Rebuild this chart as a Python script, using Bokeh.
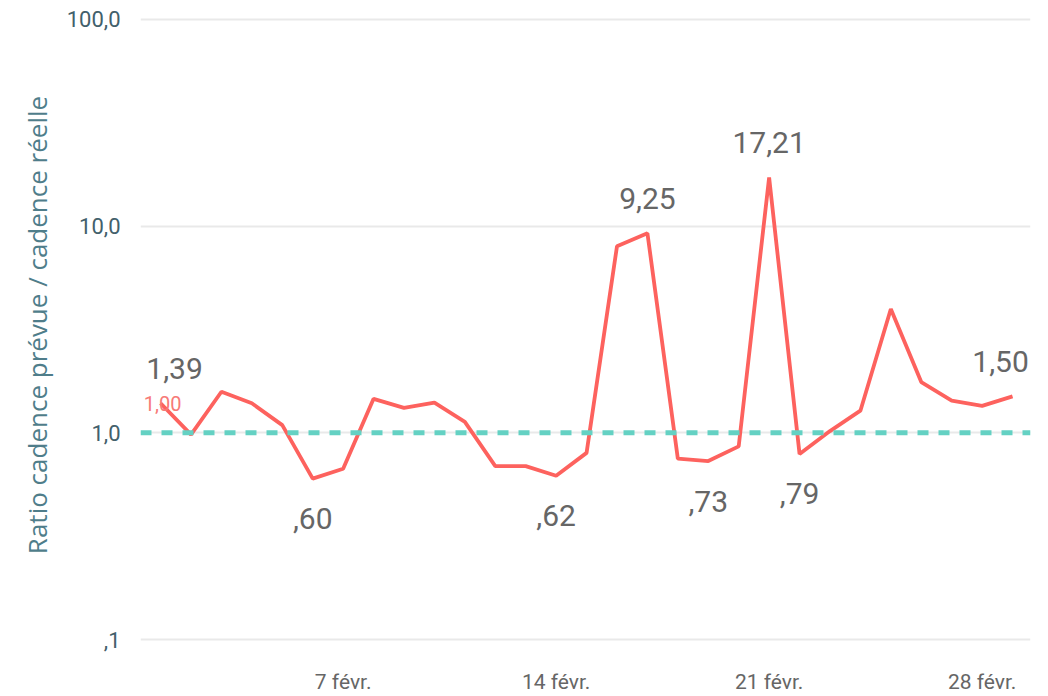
import pandas as pd
from bokeh.plotting import figure
from bokeh.models import ColumnDataSource, FixedTicker, Span, CustomJSTickFormatter, Range1d
from bokeh.core.properties import value
from bokeh.embed import file_html
from bokeh.resources import INLINE

# ---- data ----
dates = pd.date_range("2021-02-01", "2021-03-01", freq="D")
ratio = [1.39, 0.98, 1.58, 1.39, 1.09, 0.60, 0.67, 1.46, 1.32, 1.40, 1.13, 0.69, 0.69,
         0.62, 0.80, 8.00, 9.25, 0.75, 0.73, 0.86, 17.21, 0.79, 1.02, 1.28, 3.97,
         1.76, 1.43, 1.35, 1.50]
target = 1.0
target_label = "1,00"
labelled_idx = [0, 5, 13, 16, 18, 20, 21, 28]
label_side = ["above", "below", "below", "above", "below", "above", "below", "above"]
x_tick_dates = ["2021-02-07", "2021-02-14", "2021-02-21", "2021-02-28"]
x_tick_labels = ["7 févr.", "14 févr.", "21 févr.", "28 févr."]
y_ticks = [0.1, 1, 10, 100]
y_tick_labels = [",1", "1,0", "10,0", "100,0"]
y_title = "Ratio cadence prévue / cadence réelle"

# ---- styling ----
FONT = "Roboto"
RED = "#FD625E"
TEAL = "#64D1C3"
DAY = pd.Timedelta(days=1)
PX_PER_DECADE = 207.0

def fr(v):
    s = f"{v:.2f}".replace(".", ",")
    return s[1:] if s.startswith("0") else s

p = figure(width=1040, height=696, x_axis_type="datetime", y_axis_type="log",
           output_backend="svg", toolbar_location=None,
           min_border_left=140, min_border_right=10, min_border_top=8, min_border_bottom=54)
p.x_range = Range1d(dates[0] - 0.66 * DAY, dates[-1] + 0.59 * DAY)
p.y_range = Range1d(0.1 / 10 ** (2 / PX_PER_DECADE), 100 * 10 ** (11 / PX_PER_DECADE))
p.outline_line_color = None
p.background_fill_color = "white"
p.border_fill_color = "white"

# grid
p.xgrid.visible = False
p.ygrid.ticker = FixedTicker(ticks=y_ticks)
p.ygrid.grid_line_color = "#e9e9e9"
p.ygrid.grid_line_width = 2

# y axis
p.yaxis.ticker = FixedTicker(ticks=y_ticks, minor_ticks=[])
p.yaxis.formatter = CustomJSTickFormatter(args=dict(vals=y_ticks, labs=y_tick_labels), code="""
    for (let i = 0; i < vals.length; i++) {
        if (Math.abs(vals[i] - tick) < 1e-9 * Math.max(1, vals[i])) return labs[i];
    }
    return '';
""")
p.yaxis.axis_line_color = None
p.yaxis.major_tick_line_color = None
p.yaxis.minor_tick_line_color = None
p.yaxis.major_tick_out = 0
p.yaxis.major_tick_in = 0
p.yaxis.major_label_standoff = 20
p.yaxis.major_label_text_font = FONT
p.yaxis.major_label_text_font_size = "22px"
p.yaxis.major_label_text_color = "#42606b"
p.yaxis.axis_label = y_title
p.yaxis.axis_label_text_font = "Open Sans"
p.yaxis.axis_label_text_font_size = "26px"
p.yaxis.axis_label_text_font_style = "normal"
p.yaxis.axis_label_text_color = "#4f7d8a"
p.yaxis.axis_label_standoff = 9

# x axis
x_ticks_ms = [float(pd.Timestamp(d).value // 10**6) for d in x_tick_dates]
p.xaxis.ticker = FixedTicker(ticks=x_ticks_ms, minor_ticks=[])
p.xaxis.formatter = CustomJSTickFormatter(args=dict(vals=x_ticks_ms, labs=x_tick_labels), code="""
    for (let i = 0; i < vals.length; i++) {
        if (Math.abs(vals[i] - tick) < 1000) return labs[i];
    }
    return '';
""")
p.xaxis.axis_line_color = None
p.xaxis.major_tick_line_color = None
p.xaxis.minor_tick_line_color = None
p.xaxis.major_tick_out = 0
p.xaxis.major_tick_in = 0
p.xaxis.major_label_standoff = 28
p.xaxis.major_label_text_font = FONT
p.xaxis.major_label_text_font_size = "21px"
p.xaxis.major_label_text_color = "#666666"

# target line
p.add_layout(Span(location=target, dimension="width", line_color=TEAL,
                  line_width=5, line_dash="11 10"))

# main line
src = ColumnDataSource(dict(x=dates, y=ratio))
p.line("x", "y", source=src, line_color=RED, line_width=3.8)

# data labels
lx = [dates[i] for i in labelled_idx]
ly = [ratio[i] for i in labelled_idx]
lt = [fr(ratio[i]) for i in labelled_idx]
loff_y = [-35 if s == "above" else 40 for s in label_side]
loff_x = [14 if i == 0 else (-12 if i == len(dates) - 1 else 0) for i in labelled_idx]
lsrc = ColumnDataSource(dict(x=lx, y=ly, text=lt, yo=loff_y, xo=loff_x))
p.text("x", "y", text="text", source=lsrc, x_offset="xo", y_offset="yo",
       text_align="center", text_baseline="middle",
       text_font=value(FONT), text_font_size="30px", text_color="#666666")

# target label
tsrc = ColumnDataSource(dict(x=[dates[0]], y=[target], text=[target_label]))
p.text("x", "y", text="text", source=tsrc, x_offset=2, y_offset=-29,
       text_align="center", text_baseline="middle",
       text_font=value(FONT), text_font_size="20px", text_color="#F77A77")

open("out.html", "w").write(file_html(p, INLINE))
